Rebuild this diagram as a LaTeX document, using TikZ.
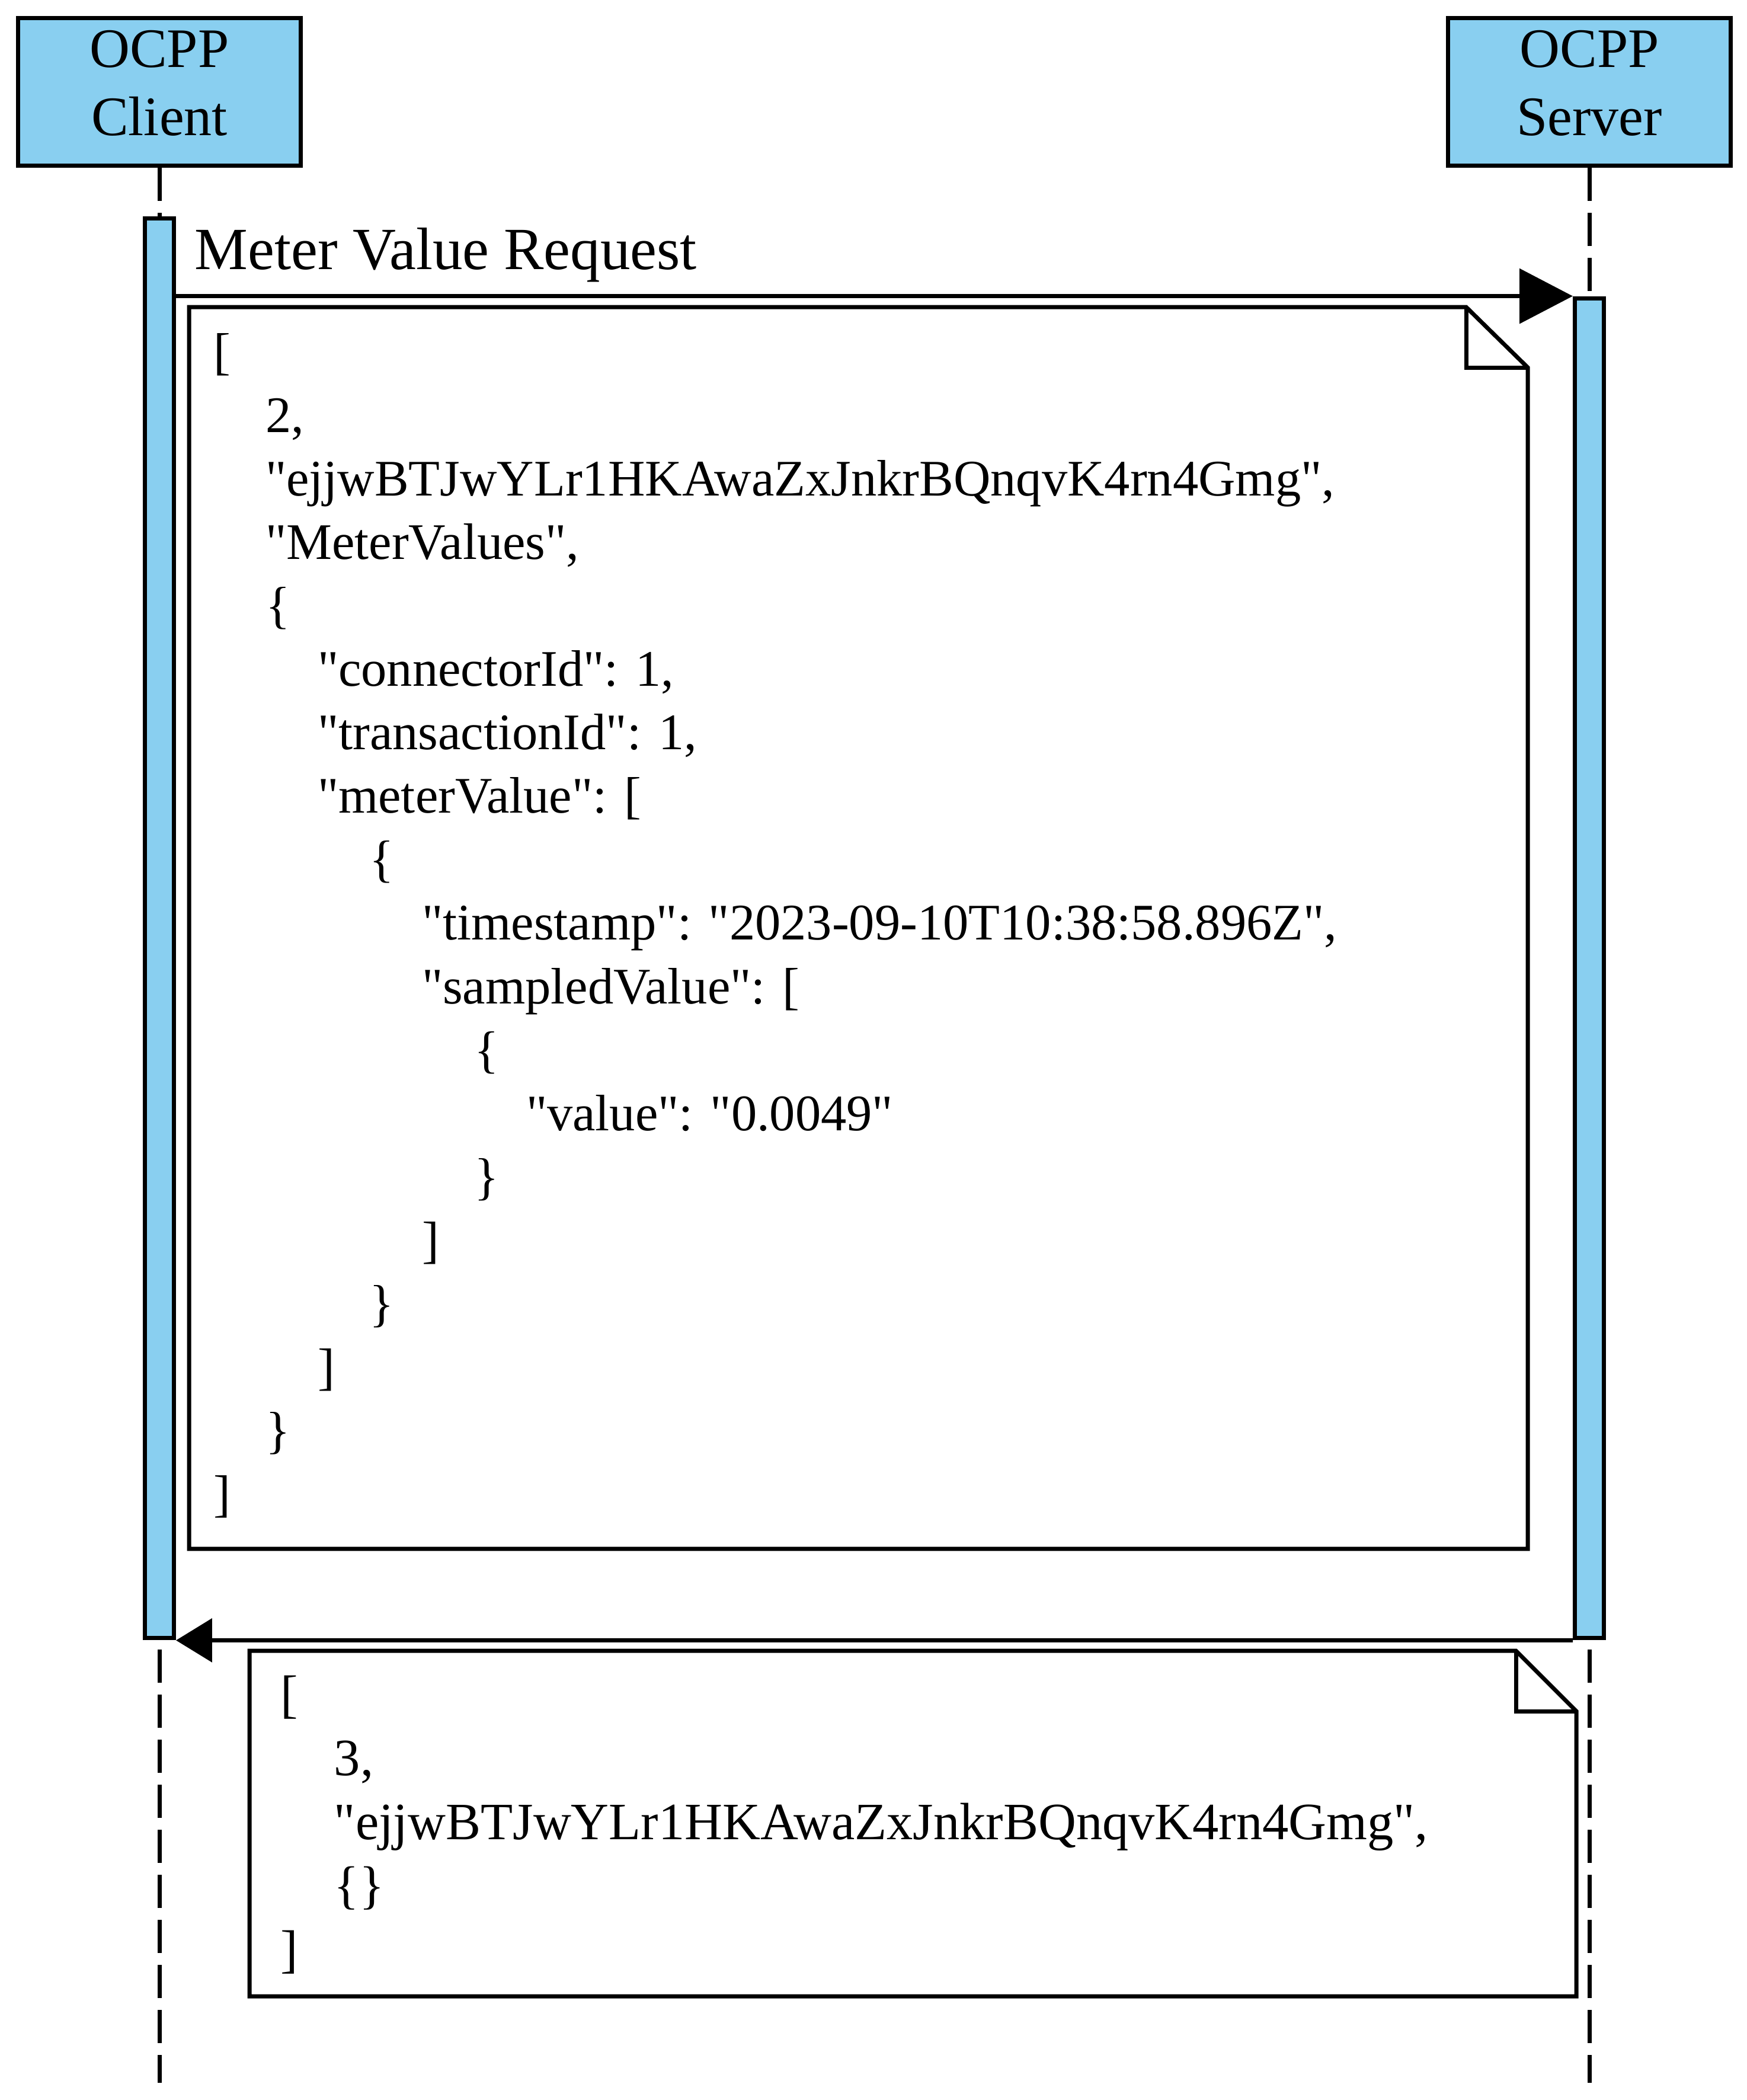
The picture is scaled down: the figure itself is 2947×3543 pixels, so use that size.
\documentclass[tikz,border=0pt]{standalone}
\usepackage{fontspec}
\setmainfont{Liberation Serif}[Ligatures=TeXOff]
\usetikzlibrary{arrows.meta}
\definecolor{barblue}{RGB}{137,207,240}
\begin{document}
\begin{tikzpicture}[x=0.1pt,y=-0.1pt,
  actorbox/.style={draw, line width=0.7pt, fill=barblue, minimum width=47.7pt, minimum height=24.9pt, inner sep=0pt},
  actortext/.style={font=\fontsize{9.4pt}{11.5pt}\selectfont, align=center, inner sep=0pt},
  actbar/.style={draw, line width=0.7pt, fill=barblue, minimum width=4.9pt, inner sep=0pt},
  lifeline/.style={line width=0.7pt, dash pattern=on 5.6pt off 2pt},
  reqmsg/.style={line width=0.7pt, -{Triangle[length=9pt,width=9.2pt]}},
  respmsg/.style={line width=0.7pt, -{Triangle[length=6.1pt,width=7.3pt]}},
  notebox/.style={draw, line width=0.7pt, line join=miter},
  json/.style={font=\fontsize{8.65pt}{10.7pt}\selectfont, anchor=base west, inner sep=0pt},
  jsonb/.style={font=\fontsize{8.85pt}{10.9pt}\selectfont, anchor=base west, inner sep=0pt},
  msglabel/.style={font=\fontsize{10.1pt}{12pt}\selectfont, anchor=base west, inner sep=0pt}]
\useasboundingbox (0,0) rectangle (2947,3543);

% actors
\node[actorbox] (client) at (269,155) {};
\node[actorbox] (server) at (2682,155) {};
\node[actortext] (clientlbl) at (269,140) {OCPP\\Client};
\node[actortext] (serverlbl) at (2682,140) {OCPP\\Server};

% activation bars
\node[actbar, minimum height=239.6pt] (clientbar) at (269,1566) {};
\node[actbar, minimum height=226.1pt] (serverbar) at (2682,1633.5) {};

% lifelines
\coordinate (clientend) at (269,3514);
\coordinate (serverend) at (2682,3514);
\draw[lifeline] (client.south) -- (clientbar.north);
\draw[lifeline] (server.south) -- (serverbar.north);
\draw[lifeline, dash phase=6pt] (clientbar.south) -- (clientend);
\draw[lifeline, dash phase=6pt] (serverbar.south) -- (serverend);

% messages
\draw[reqmsg] (clientbar.east |- serverbar.north) -- (serverbar.north west);
\draw[respmsg] (serverbar.south west) -- (clientbar.south east);
\node[msglabel] (reqlabel) at (327,454) {Meter Value Request};

% note 1
\draw[notebox] (319,518) -- (2474,518) -- (2578,620) -- (2578,2613) -- (319,2613) -- cycle;
\draw[notebox] (2474,518) -- (2474,620) -- (2578,620);
\node[json] (a1)  at (358+0*88, 622+0*107.1)  {[};
\node[json] (a2)  at (358+1*88, 622+1*107.1)  {2,};
\node[json] (a3)  at (358+1*88, 622+2*107.1)  {"ejjwBTJwYLr1HKAwaZxJnkrBQnqvK4rn4Gmg",};
\node[json] (a4)  at (358+1*88, 622+3*107.1)  {"MeterValues",};
\node[json] (a5)  at (358+1*88, 622+4*107.1)  {\{};
\node[json] (a6)  at (358+2*88, 622+5*107.1)  {"connectorId": 1,};
\node[json] (a7)  at (358+2*88, 622+6*107.1)  {"transactionId": 1,};
\node[json] (a8)  at (358+2*88, 622+7*107.1)  {"meterValue": [};
\node[json] (a9)  at (358+3*88, 622+8*107.1)  {\{};
\node[json] (a10) at (358+4*88, 622+9*107.1)  {"timestamp": "2023-09-10T10:38:58.896Z",};
\node[json] (a11) at (358+4*88, 622+10*107.1) {"sampledValue": [};
\node[json] (a12) at (358+5*88, 622+11*107.1) {\{};
\node[json] (a13) at (358+6*88, 622+12*107.1) {"value": "0.0049"};
\node[json] (a14) at (358+5*88, 622+13*107.1) {\}};
\node[json] (a15) at (358+4*88, 622+14*107.1) {]};
\node[json] (a16) at (358+3*88, 622+15*107.1) {\}};
\node[json] (a17) at (358+2*88, 622+16*107.1) {]};
\node[json] (a18) at (358+1*88, 622+17*107.1) {\}};
\node[json] (a19) at (358+0*88, 622+18*107.1) {]};

% note 2
\draw[notebox] (421,2785) -- (2558,2785) -- (2660,2887) -- (2660,3368) -- (421,3368) -- cycle;
\draw[notebox] (2558,2785) -- (2558,2887) -- (2660,2887);
\node[jsonb] (b1) at (472+0*90, 2888+0*107.5) {[};
\node[jsonb] (b2) at (472+1*90, 2888+1*107.5) {3,};
\node[jsonb] (b3) at (472+1*90, 2888+2*107.5) {"ejjwBTJwYLr1HKAwaZxJnkrBQnqvK4rn4Gmg",};
\node[jsonb] (b4) at (472+1*90, 2888+3*107.5) {\{\}};
\node[jsonb] (b5) at (472+0*90, 2888+4*107.5) {]};
\end{tikzpicture}
\end{document}
